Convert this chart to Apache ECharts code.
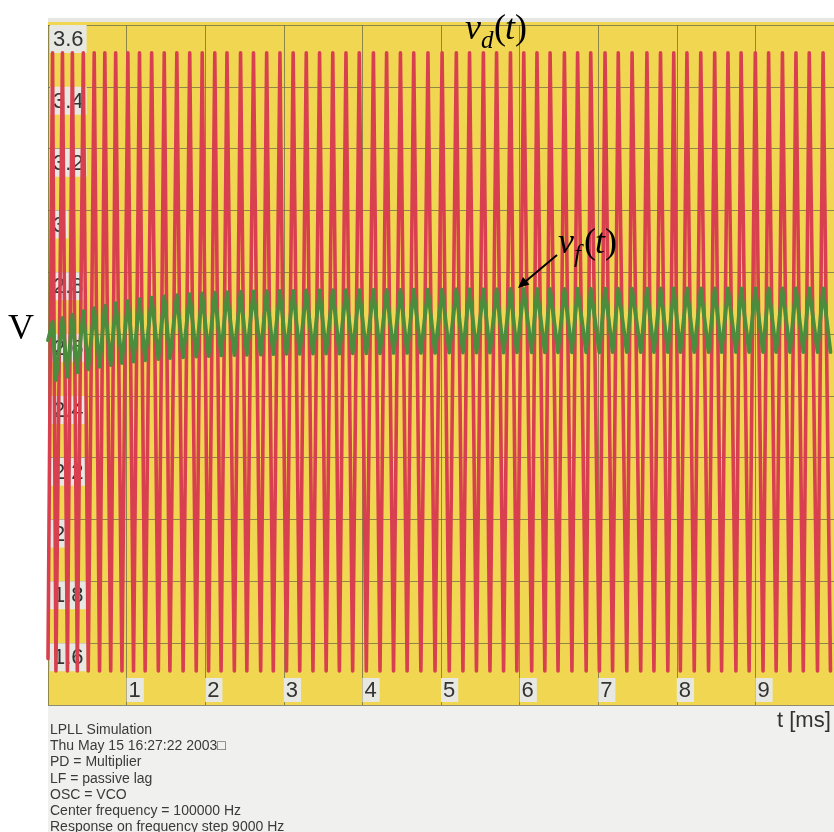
<!DOCTYPE html>
<html><head><meta charset="utf-8">
<script src="https://cdn.jsdelivr.net/npm/echarts@6/dist/echarts.min.js"></script>
<style>html,body{margin:0;padding:0;background:#fff}#c{width:834px;height:832px}</style>
</head><body><div id="c"></div>
<script>
// ---- data ----
// times (ms) of the upper tips of v_d(t)
const vdPeakT = [0.058,0.184,0.310,0.449,0.588,0.723,0.861,1.016,1.164,1.319,
  1.479,1.639,1.803,1.962,2.122,2.277,2.450,2.614,2.782,2.951,
  3.119,3.286,3.455,3.623,3.791,3.960,4.140,4.308,4.484,4.653,
  4.834,5.014,5.195,5.363,5.539,5.707,5.884,6.053,6.221,6.388,
  6.570,6.738,6.905,7.087,7.255,7.431,7.620,7.793,7.961,8.129,
  8.305,8.482,8.651,8.818,8.999,9.168,9.344,9.516,9.685,9.861];
// times (ms) of the lower tips of v_d(t)
const vdTroughT = [0.101,0.247,0.373,0.512,0.656,0.798,0.941,1.088,1.236,1.404,
  1.551,1.719,1.886,2.043,2.202,2.371,2.530,2.706,2.866,3.034,
  3.203,3.371,3.539,3.707,3.876,4.050,4.224,4.396,4.569,4.744,
  4.924,5.105,5.279,5.451,5.623,5.796,5.965,6.154,6.321,6.489,
  6.666,6.847,7.015,7.183,7.364,7.541,7.709,7.886,8.045,8.222,
  8.404,8.570,8.752,8.920,9.097,9.264,9.440,9.609,9.790,9.955];
const vdStart = 1.55, vdHigh = 3.51, vdLow = 1.51;
// v_f(t) extremes (V), at the same instants as the v_d tips
const vfStart = 2.58;
const vfPeakV = [2.640,2.652,2.663,2.674,2.684,2.692,2.700,2.707,2.713,2.718,
  2.722,2.726,2.729,2.732,2.734,2.736,2.737,2.738,2.739,2.740,
  2.740,2.741,2.741,2.742,2.742,2.742,2.743,2.743,2.743,2.744,
  2.744,2.744,2.745,2.745,2.745,2.745,2.746,2.746,2.746,2.746,
  2.746,2.747,2.747,2.747,2.747,2.747,2.747,2.748,2.748,2.748,
  2.748,2.748,2.748,2.748,2.748,2.748,2.748,2.748,2.748,2.748];
const vfTroughV = [2.451,2.462,2.476,2.486,2.494,2.500,2.506,2.511,2.515,2.519,
  2.522,2.525,2.527,2.529,2.531,2.532,2.533,2.534,2.535,2.536,
  2.536,2.537,2.537,2.537,2.538,2.538,2.538,2.539,2.539,2.539,
  2.539,2.540,2.540,2.540,2.540,2.540,2.541,2.541,2.541,2.541,
  2.541,2.541,2.541,2.542,2.542,2.542,2.542,2.542,2.542,2.542,
  2.542,2.542,2.542,2.542,2.542,2.542,2.542,2.542,2.542,2.542];
const infoLines = ['LPLL Simulation','Thu May 15 16:27:22 2003\u25A1','PD = Multiplier',
  'LF = passive lag','OSC = VCO','Center frequency = 100000 Hz','Response on frequency step 9000 Hz'];

// ---- build series ----
const vdData = [[0, vdStart]];
const vfData = [[0, vfStart]];
for (let i = 0; i < vdPeakT.length; i++) {
  vdData.push([vdPeakT[i], vdHigh]); vdData.push([vdTroughT[i], vdLow]);
  vfData.push([vdPeakT[i], vfPeakV[i]]); vfData.push([vdTroughT[i], vfTroughV[i]]);
}

const YEL = '#f0d651', GRID = 'rgba(110,105,70,0.75)', BOX = '#e8e8e3';
const serif = '"Liberation Serif","DejaVu Serif",serif';
const sans = '"Liberation Sans",Arial,sans-serif';
function glyph(x, y, t, font) {
  return {type: 'text', x: x, y: y, silent: true, z: 100,
    style: {text: t, font: font, fill: '#000', verticalAlign: 'middle', align: 'left'}};
}
const chart = echarts.init(document.getElementById('c'));
chart.setOption({
  animation: false,
  backgroundColor: '#ffffff',
  grid: {left: 48, top: 25, right: -8, bottom: 127, show: true, backgroundColor: YEL, borderWidth: 0},
  xAxis: {type: 'value', min: 0, max: 10, interval: 1,
    axisLine: {show: false}, axisTick: {show: false},
    splitLine: {show: true, lineStyle: {color: GRID, width: 1}},
    axisLabel: {inside: true, margin: 3, align: 'left', verticalAlign: 'bottom',
      showMinLabel: false, showMaxLabel: false,
      fontSize: 22, fontFamily: sans, color: '#333', backgroundColor: BOX, padding: [2, 3, 0, 2]}},
  yAxis: {type: 'value', min: 1.4, max: 3.6, interval: 0.2,
    axisLine: {show: false}, axisTick: {show: false},
    splitLine: {show: true, lineStyle: {color: GRID, width: 1}},
    axisLabel: {inside: true, margin: 2, align: 'left', verticalAlign: 'top',
      showMinLabel: false,
      formatter: v => String(+v.toFixed(1)),
      fontSize: 22, fontFamily: sans, color: '#333', backgroundColor: BOX, padding: [4, 3, 2, 3]}},
  series: [
    {type: 'line', data: vdData, showSymbol: false, z: 2, clip: true,
     lineStyle: {color: '#d8404f', width: 3.6, cap: 'round', join: 'round'}},
    {type: 'line', data: vfData, showSymbol: false, z: 3, clip: true,
     lineStyle: {color: '#4b8d3c', width: 3.8, cap: 'round', join: 'round'}}
  ],
  graphic: [
    {type: 'rect', shape: {x: 48, y: 18, width: 786, height: 4}, style: {fill: '#e6e6e2'}, silent: true},
    {type: 'rect', shape: {x: 48, y: 22, width: 786, height: 3}, style: {fill: YEL}, silent: true},
    {type: 'rect', shape: {x: 48, y: 705, width: 786, height: 127}, style: {fill: '#f0f0ee'}, silent: true},
    {type: 'text', x: 50, y: 722, style: {text: infoLines.join('\n'), font: '14px ' + sans, fill: '#3a3a3a', lineHeight: 16.2}, silent: true},
    {type: 'text', x: 777, y: 721, style: {text: 't [ms]', font: '22px ' + sans, fill: '#333', verticalAlign: 'middle'}, silent: true},
    {type: 'text', x: 21, y: 330, style: {text: 'V', font: '36px ' + serif, fill: '#000', align: 'center', verticalAlign: 'middle'}, silent: true},
    // v_d(t)
    glyph(465, 30, 'v', 'italic 36px ' + serif),
    glyph(481, 41, 'd', 'italic 25px ' + serif),
    glyph(494, 30, '(', '36px ' + serif),
    glyph(505, 30, 't', 'italic 36px ' + serif),
    glyph(515, 30, ')', '36px ' + serif),
    // v_f(t)
    glyph(558, 244, 'v', 'italic 36px ' + serif),
    glyph(574, 255, 'f', 'italic 25px ' + serif),
    glyph(584, 244, '(', '36px ' + serif),
    glyph(595, 244, 't', 'italic 36px ' + serif),
    glyph(605, 244, ')', '36px ' + serif),
    // arrow
    {type: 'line', shape: {x1: 557, y1: 255, x2: 526, y2: 281}, style: {stroke: '#000', lineWidth: 2}, z: 100, silent: true},
    {type: 'polygon', shape: {points: [[518, 288], [529.5, 284.5], [523, 277]]}, style: {fill: '#000'}, z: 100, silent: true}
  ]
});
</script></body></html>
